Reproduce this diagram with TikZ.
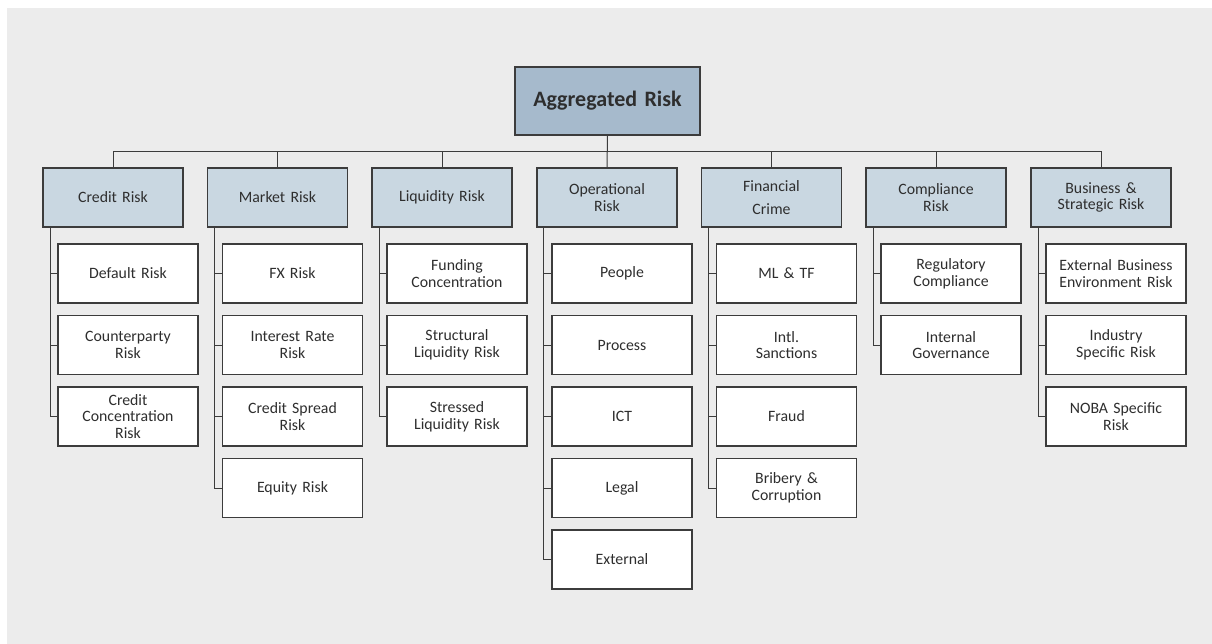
\documentclass[tikz,border=0pt]{standalone}
\usepackage{fontspec}
\setmainfont{Carlito}
\usetikzlibrary{positioning}
\definecolor{bggray}{HTML}{ECECEC}
\definecolor{topblue}{HTML}{A6BACC}
\definecolor{catblue}{HTML}{C9D7E1}
\definecolor{boxline}{HTML}{3C3C3C}
\definecolor{txt}{HTML}{2E2E2E}
\begin{document}
\begin{tikzpicture}[x=1pt,y=-1pt,
    box/.style={draw=boxline,line width=1.1pt,align=center,text=txt,inner sep=2pt,
      minimum width=140pt,minimum height=59pt,text width=134pt,
      font=\fontsize{15.8}{16.7}\selectfont},
    toprisk/.style={box,fill=topblue,minimum width=185pt,minimum height=68pt,text width=175pt,
      font=\fontsize{22}{24}\selectfont\bfseries},
    catrisk/.style={box,fill=catblue},
    subrisk/.style={box,fill=white},
    link/.style={draw=boxline,line width=1pt}]
  \useasboundingbox (0,0) rectangle (1212,644);
  \fill[bggray] (7,8) rectangle (1212,644);

  % top and categories
  \node[toprisk] (agg) at (607.5,101) {Aggregated Risk};
  \node[catrisk] (cr) at (113,197.5) {Credit Risk};
  \node[catrisk] (mk) at (277.5,197.5) {Market Risk};
  \node[catrisk] (lq) at (442,197.5) {Liquidity Risk};
  \node[catrisk] (op) at (607,197.5) {Operational\\Risk};
  \node[catrisk] (fc) at (771.5,197.5) {Financial\\[6pt]Crime};
  \node[catrisk] (cp) at (936,197.5) {Compliance\\Risk};
  \node[catrisk] (bs) at (1101,197.5) {Business \&\\Strategic Risk};

  \draw[link] (agg.south) -- (op.north);
  \draw[link] (cr.north) -- ++(0,-16) -| (bs.north);
  \foreach \n in {mk,lq,fc,cp}
    \draw[link] (\n.north) -- ++(0,-16);

  % sub risks
  \foreach \t [count=\i] in {Default Risk,{Counterparty\\Risk},{Credit\\Concentration\\Risk}}{
    \node[subrisk] (cr\i) at (128,202+71.5*\i) {\t};
    \draw[link] ([xshift=8pt]cr.south west) |- (cr\i.west);
  }
  \foreach \t [count=\i] in {FX Risk,{Interest Rate\\Risk},{Credit Spread\\Risk},Equity Risk}{
    \node[subrisk] (mk\i) at (292.5,202+71.5*\i) {\t};
    \draw[link] ([xshift=8pt]mk.south west) |- (mk\i.west);
  }
  \foreach \t [count=\i] in {{Funding\\Concentration},{Structural\\Liquidity Risk},{Stressed\\Liquidity Risk}}{
    \node[subrisk] (lq\i) at (457,202+71.5*\i) {\t};
    \draw[link] ([xshift=8pt]lq.south west) |- (lq\i.west);
  }
  \foreach \t [count=\i] in {People,Process,ICT,Legal,External}{
    \node[subrisk] (op\i) at (622,202+71.5*\i) {\t};
    \draw[link] ([xshift=7pt]op.south west) |- (op\i.west);
  }
  \foreach \t [count=\i] in {ML \& TF,{Intl.\\Sanctions},Fraud,{Bribery \&\\Corruption}}{
    \node[subrisk] (fc\i) at (786.5,202+71.5*\i) {\t};
    \draw[link] ([xshift=8pt]fc.south west) |- (fc\i.west);
  }
  \foreach \t [count=\i] in {{Regulatory\\Compliance},{Internal\\Governance}}{
    \node[subrisk] (cp\i) at (951,202+71.5*\i) {\t};
    \draw[link] ([xshift=8pt]cp.south west) |- (cp\i.west);
  }
  \foreach \t [count=\i] in {{External Business\\Environment Risk},{Industry\\Specific Risk},{NOBA Specific\\Risk}}{
    \node[subrisk] (bs\i) at (1116,202+71.5*\i) {\t};
    \draw[link] ([xshift=8pt]bs.south west) |- (bs\i.west);
  }
\end{tikzpicture}
\end{document}
